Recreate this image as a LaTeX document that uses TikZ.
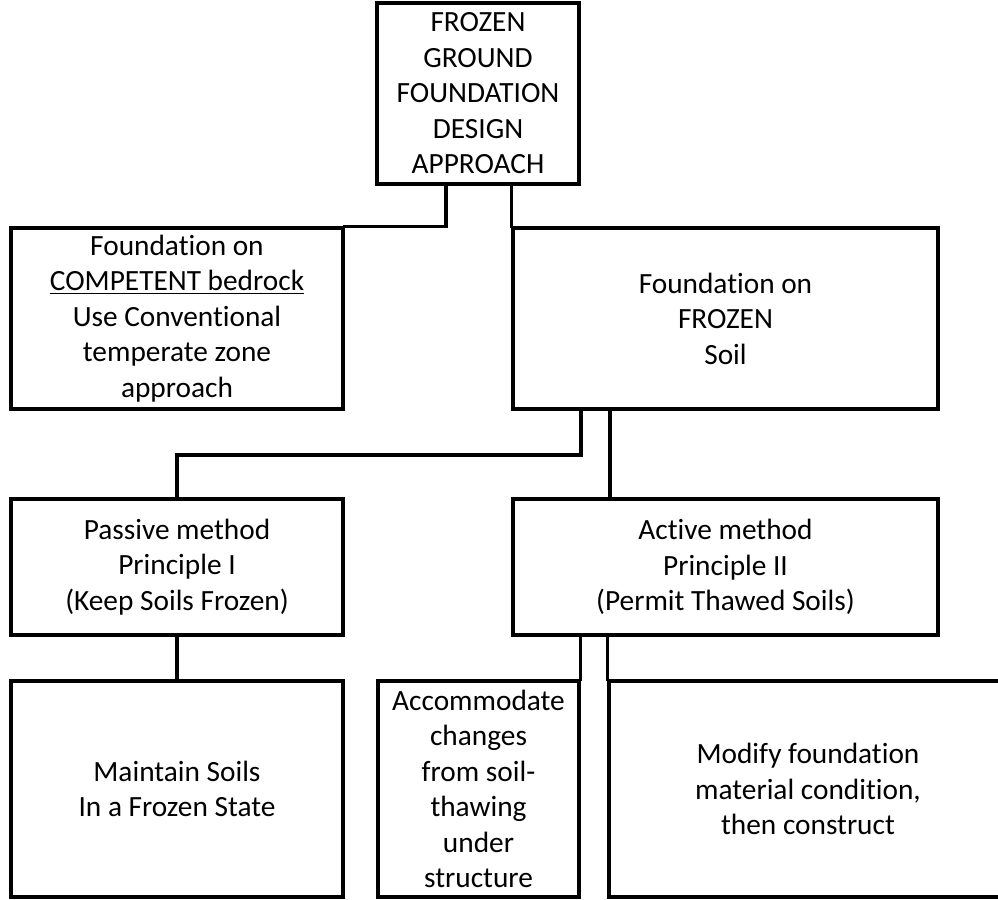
\documentclass[tikz,border=0pt]{standalone}
\usepackage{fontspec}
\setmainfont[Ligatures=NoCommon]{Carlito}
\begin{document}
\begin{tikzpicture}[x=0.75pt,y=-0.75pt,
  box/.style={draw=black,line width=2.4pt,rectangle,align=center,inner sep=0pt,
    font=\fontsize{22pt}{26.6pt}\selectfont},
  conn/.style={draw=black,line width=2.4pt,line cap=rect}]
\useasboundingbox (0,0) rectangle (998,899);
\clip (0,0) rectangle (998,899);
% boxes (centre, size in px)
\node[box,minimum width=202*0.75pt,minimum height=181*0.75pt] (top) at (478,93.5)
  {FROZEN\\GROUND\\FOUNDATION\\DESIGN\\APPROACH};
\node[box,minimum width=332*0.75pt,minimum height=181*0.75pt] (left) at (177,318.5)
  {Foundation on\\\underline{COMPETENT bedrock}\\Use Conventional\\temperate zone\\approach};
\node[box,minimum width=425*0.75pt,minimum height=181*0.75pt] (right) at (725.5,318.5)
  {Foundation on\\FROZEN\\Soil};
\node[box,minimum width=332*0.75pt,minimum height=136*0.75pt] (passive) at (177,567)
  {Passive method\\Principle I\\(Keep Soils Frozen)};
\node[box,minimum width=425*0.75pt,minimum height=136*0.75pt] (active) at (725.5,567)
  {Active method\\Principle II\\(Permit Thawed Soils)};
\node[box,minimum width=332*0.75pt,minimum height=216*0.75pt] (maintain) at (177,789)
  {Maintain Soils\\In a Frozen State};
\node[box,minimum width=201*0.75pt,minimum height=216*0.75pt] (accom) at (478.5,789)
  {Accommodate\\changes\\from soil-\\thawing\\under\\structure};
\node[box,minimum width=398*0.75pt,minimum height=216*0.75pt] (modify) at (808,789)
  {Modify foundation\\material condition,\\then construct};
% helper coordinates
\coordinate (xa) at (446,0);
\coordinate (xb) at (581,0);
\coordinate (xc) at (610,0);
\coordinate (yb) at (0,455);
% connectors
\draw[conn] (top.south -| xa) |- (left.north east);
\draw[conn] (top.south -| right.west) -- (right.north west);
\draw[conn] (right.south -| xb) -- (xb |- yb) -| (passive.north);
\draw[conn] (right.south -| xc) -- (active.north -| xc);
\draw[conn] (passive.south) -- (maintain.north);
\draw[conn] (active.south -| accom.east) -- (accom.north east);
\draw[conn] (active.south -| modify.west) -- (modify.north west);
\end{tikzpicture}
\end{document}
